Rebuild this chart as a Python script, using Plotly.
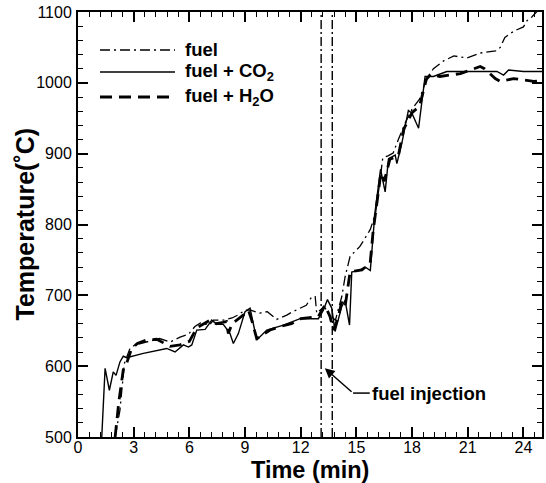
import plotly.graph_objects as go

# ---------------- data ----------------
fuel_t = [2.0, 2.26, 2.5, 2.8, 3.07, 3.7, 4.4, 4.96, 5.5, 5.95, 6.3, 6.6, 7.08, 7.3, 7.83,
          8.3, 8.6, 9.0, 9.3, 9.8, 10.2, 10.7, 11.25, 11.5, 11.97, 12.3, 12.6, 12.78, 12.86,
          13.27, 13.58, 13.87, 14.21, 14.39, 14.66, 15.19, 15.75, 16.04, 16.23, 16.42, 16.7,
          16.98, 17.26, 17.64, 18.0, 18.4, 18.77, 19.15, 19.7, 20.25, 20.95, 21.65, 22.5,
          22.75, 23.0, 23.3, 23.65, 24.0, 24.2, 24.45, 24.7, 25.0]
fuel_T = [500, 538, 604, 625, 630, 634, 639, 634, 641, 645, 656, 661, 658, 665, 665,
          668, 672, 679, 679, 675, 677, 666, 672, 676, 682, 686, 698, 698, 675,
          684, 671, 665, 698, 726, 755, 769, 793, 817, 854, 894, 897,
          901, 920, 944, 963, 977, 1005, 1020, 1031, 1038, 1035, 1042, 1045,
          1050, 1064, 1070, 1075, 1079, 1088, 1093, 1100, 1110]

co2_t = [1.28, 1.46, 1.69, 1.9, 2.05, 2.26, 2.44, 2.62, 3.52, 4.42, 4.78, 5.23, 5.68, 5.95,
         6.13, 6.4, 6.85, 7.21, 7.48, 7.83, 8.19, 8.37, 8.64, 9.0, 9.27, 9.63, 10.17, 11.07,
         11.4, 11.97, 12.95, 13.22, 13.44, 13.67, 13.85, 14.03, 14.21, 14.39, 14.63, 14.75,
         15.2, 15.47, 15.75, 16.0, 16.3, 16.55, 16.73, 17.09, 17.18, 17.45, 17.72, 17.8,
         17.99, 18.35, 18.7, 19.15, 19.87, 20.95, 22.57, 22.93, 23.2, 24.0, 25.0]
co2_T = [500, 597, 566, 592, 587, 606, 614, 612, 618, 623, 625, 620, 630, 627,
         630, 651, 652, 665, 659, 659, 646, 632, 646, 677, 682, 637, 651, 658,
         661, 667, 667, 679, 694, 682, 649, 667, 684, 693, 658, 733,
         736, 740, 735, 817, 878, 846, 893, 898, 886, 915, 947, 961,
         957, 936, 1009, 1009, 1016, 1016, 1016, 1011, 1018, 1016, 1016]

h2o_t = [2.0, 2.2, 2.44, 2.62, 2.89, 3.2, 3.7, 4.24, 4.96, 5.5, 6.0, 6.4, 7.12, 7.45, 7.83,
         8.0, 8.1, 8.3, 8.9, 9.18, 9.36, 9.63, 10.35, 10.9, 11.5, 12.0, 12.95, 13.3, 13.58,
         13.76, 14.0, 14.21, 14.39, 14.57, 14.66, 15.3, 15.74, 15.9, 16.04, 16.32, 16.5,
         16.8, 17.26, 17.55, 17.74, 18.0, 18.4, 18.77, 19.0, 19.5, 20.6, 21.67, 21.9, 22.48,
         22.75, 23.47, 24.0, 24.55, 25.0]
h2o_T = [500, 550, 595, 604, 625, 632, 637, 638, 628, 630, 635, 654, 665, 660, 662,
         663, 646, 660, 672, 679, 665, 639, 651, 656, 660, 667, 670, 686, 670,
         651, 667, 691, 684, 717, 733, 736, 745, 790, 817, 873, 861,
         892, 897, 935, 944, 958, 967, 1005, 1012, 1009, 1013, 1023, 1020, 1006,
         1002, 1006, 1004, 1002, 1003]

injection_times = [13.1, 13.7]
x_ticks = [0, 3, 6, 9, 12, 15, 18, 21, 24]
y_ticks = [500, 600, 700, 800, 900, 1000, 1100]
series_names = ["fuel", "fuel + CO<sub>2</sub>", "fuel + H<sub>2</sub>O"]

# ---------------- layout geometry ----------------
W, H = 546, 483
L, R, T, B = 78, 4, 12, 46
PW, PH = W - L - R, H - T - B
FONT = "Liberation Sans, Arial, sans-serif"


def px_x(px):
    return (px - L) / PW


def px_y(py):
    return (H - B - py) / PH


styles = [
    dict(color="black", width=1.3, dash="10px,4px,2px,4px"),
    dict(color="black", width=1.4),
    dict(color="black", width=2.8, dash="12px,7px"),
]

fig = go.Figure()
for t, v, name, st in zip([fuel_t, co2_t, h2o_t], [fuel_T, co2_T, h2o_T], series_names, styles):
    fig.add_trace(go.Scatter(x=t, y=v, mode="lines", name=name, line=st, showlegend=False))

# injection vertical lines
for xv in injection_times:
    fig.add_shape(type="line", xref="x", yref="paper", x0=xv, x1=xv, y0=0, y1=1,
                  line=dict(color="black", width=1.4, dash="9px,3px,2px,3px"))

# manual legend
leg_rows = [50, 72, 97]
for row, name, st in zip(leg_rows, series_names, styles):
    fig.add_shape(type="line", xref="paper", yref="paper",
                  x0=px_x(100), x1=px_x(175), y0=px_y(row), y1=px_y(row), line=st)
    fig.add_annotation(xref="paper", yref="paper", x=px_x(183), y=px_y(row), text="<b>%s</b>" % name,
                       showarrow=False, xanchor="left", yanchor="middle",
                       font=dict(family=FONT, size=18.5, color="black"))

# fuel injection annotation
tip_x, tip_y = 13.3, 597
tail_x, tail_y = 14.82, 562
text_x = 15.72
fig.add_annotation(x=tip_x, y=tip_y, ax=tail_x, ay=tail_y, axref="x", ayref="y", xref="x", yref="y",
                   text="", showarrow=True, arrowhead=2, arrowsize=1.3, arrowwidth=1.5, arrowcolor="black")
fig.add_shape(type="line", xref="x", yref="y", x0=tail_x, x1=text_x, y0=tail_y, y1=tail_y,
              line=dict(color="black", width=1.5))
fig.add_annotation(x=text_x, y=tail_y, xref="x", yref="y", text="<b>fuel injection</b>", showarrow=False,
                   xanchor="left", yanchor="middle", font=dict(family=FONT, size=18.5, color="black"))

# axis titles
fig.add_annotation(xref="paper", yref="paper", x=0.5, y=px_y(470), text="<b>Time (min)</b>", showarrow=False,
                   xanchor="center", yanchor="middle", font=dict(family=FONT, size=23.5, color="black"))
fig.add_annotation(xref="paper", yref="paper", x=px_x(24), y=0.5, text="<b>Temperature(˚C)</b>", showarrow=False,
                   textangle=-90, xanchor="center", yanchor="middle",
                   font=dict(family=FONT, size=25, color="black"))

axis_common = dict(showline=True, linewidth=2, linecolor="black", mirror="allticks", ticks="inside",
                   tickwidth=2, ticklen=10, tickcolor="black", showgrid=False, zeroline=False,
                   tickfont=dict(family=FONT, size=16, color="black"))
fig.update_xaxes(range=[0, 25], tickvals=x_ticks, ticktext=[str(v) for v in x_ticks],
                 ticklabelstandoff=-5,
                 minor=dict(ticks="inside", ticklen=5, tickwidth=1, tickcolor="black", dtick=0.6, tick0=0),
                 **axis_common)
fig.update_yaxes(range=[500, 1100], tickvals=y_ticks, ticktext=[str(v) for v in y_ticks],
                 ticklabelstandoff=1,
                 minor=dict(ticks="inside", ticklen=5, tickwidth=1, tickcolor="black", dtick=20, tick0=500),
                 **axis_common)

fig.update_layout(width=W, height=H, margin=dict(l=L, r=R, t=T, b=B, autoexpand=False),
                  paper_bgcolor="white", plot_bgcolor="white", showlegend=False)

fig.write_html("out.html")
